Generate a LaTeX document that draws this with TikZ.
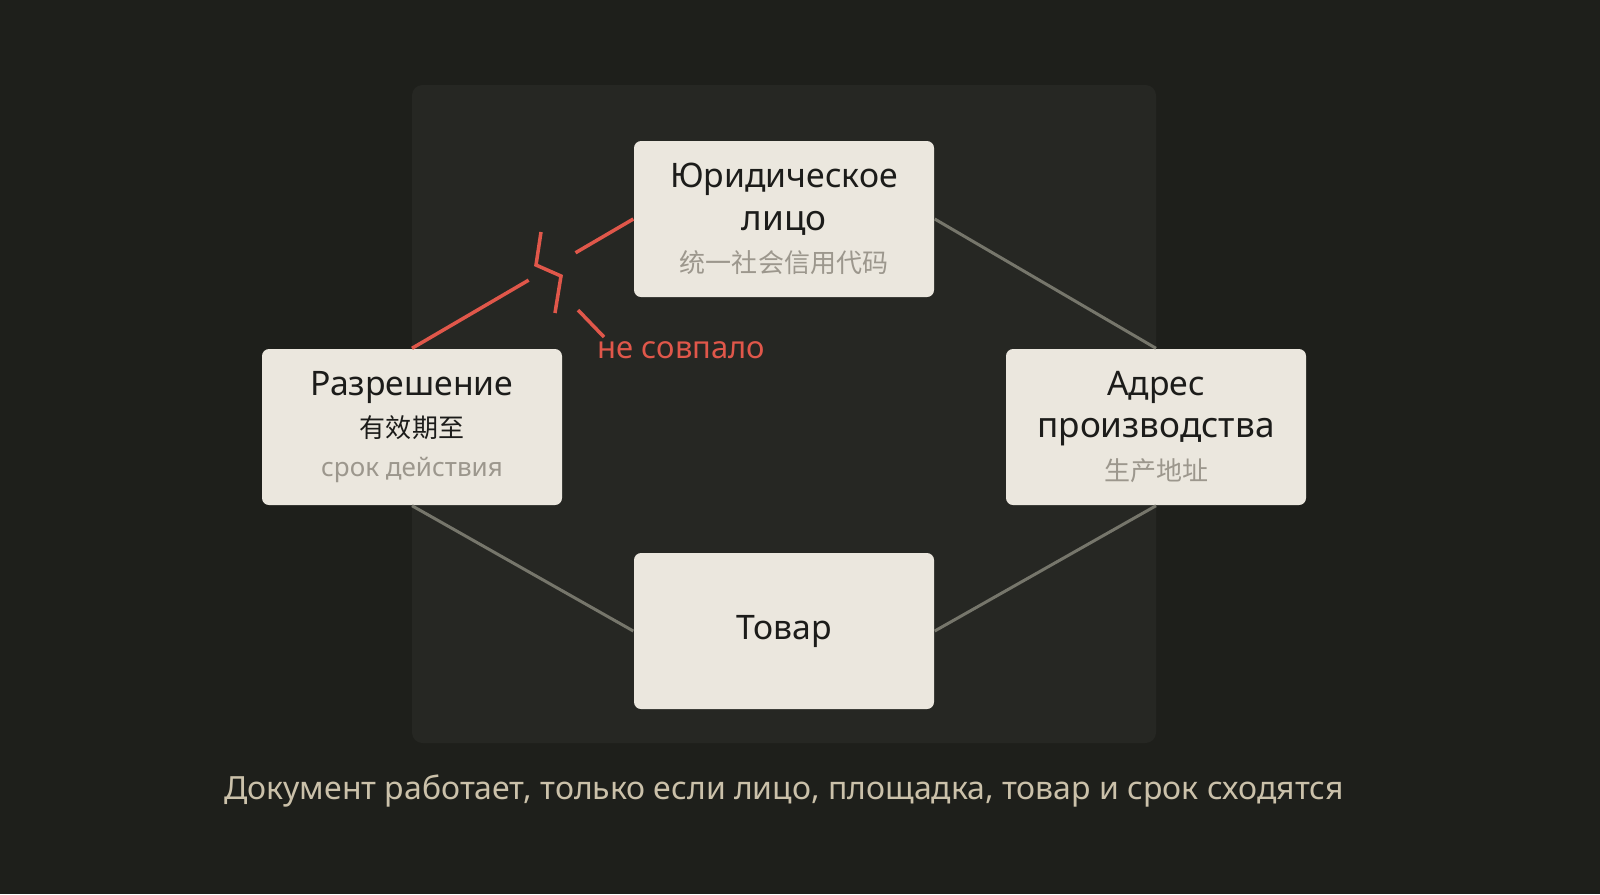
\documentclass[tikz,border=0pt]{standalone}
\usepackage{fontspec}
\setmainfont{Noto Sans}
\newfontfamily\cjk{Noto Sans CJK SC}
\usepackage{tikz}
\usetikzlibrary{positioning, calc}
\definecolor{bgdark}{HTML}{1E1F1B}
\definecolor{panel}{HTML}{262723}
\definecolor{paper}{HTML}{EBE7DE}
\definecolor{ink}{HTML}{1C1C1A}
\definecolor{mute}{HTML}{9C978D}
\definecolor{link}{HTML}{76766B}
\definecolor{clash}{HTML}{E0574A}
\definecolor{note}{HTML}{CBC1AA}
\tikzstyle{card}=[rectangle, rounded corners=2pt, fill=paper, minimum width=3cm, minimum height=1.56cm, align=center, text=ink, inner sep=0pt]
\tikzstyle{tie}=[draw=link, line width=0.85pt]
\tikzstyle{broken}=[draw=clash, line width=1pt]
\newcommand{\headfont}{\fontsize{9.6}{11}\selectfont}
\newcommand{\subfont}{\fontsize{7.4}{10}\selectfont}

\begin{document}
\begin{tikzpicture}[node distance=2.08cm]
				\fill[bgdark] (0,0) rectangle (16,-8.94);
				\useasboundingbox (0,0) rectangle (16,-8.94);
				\fill[panel, rounded corners=3pt] (4.12,-0.85) rectangle (11.56,-7.43);

				\node[card] (jur) at (7.84,-2.19) {\headfont Юридическое\\лицо\\\subfont\cjk\color{mute}统一社会信用代码};
				\node[card] (razr) [below of=jur, xshift=-3.72cm] {\headfont Разрешение\\\subfont\cjk 有效期至\\[-1pt]\subfont\rmfamily\color{mute}срок действия};
				\node[card] (adr) [below of=jur, xshift=3.72cm] {\headfont Адрес\\производства\\\subfont\cjk\color{mute}生产地址};
				\node[card] (tov) [below of=jur, node distance=4.12cm] {\headfont Товар};

				\draw[tie] (jur.east) -- (adr.north);
				\draw[tie] (adr.south) -- (tov.east);
				\draw[tie] (tov.west) -- (razr.south);

				% the broken link
				\coordinate (cutA) at ($(razr.north)!0.527!(jur.west)$);
				\coordinate (cutB) at ($(razr.north)!0.739!(jur.west)$);
				\draw[broken] (razr.north) -- (cutA);
				\draw[broken] (cutB) -- (jur.west);
				\draw[broken] (5.41,-2.32) -- (5.36,-2.65) -- (5.61,-2.76) -- (5.55,-3.13);
				\draw[broken] (5.78,-3.10) -- (6.04,-3.37);
				\node[text=clash, anchor=west, inner sep=0pt, font=\fontsize{8.8}{10}\selectfont] (miss) at (5.97,-3.50) {не совпало};

				\node[text=note, font=\fontsize{9.1}{10}\selectfont] (caption) at (7.84,-7.91) {Документ работает, только если лицо, площадка, товар и срок сходятся};
			\end{tikzpicture}
\end{document}
